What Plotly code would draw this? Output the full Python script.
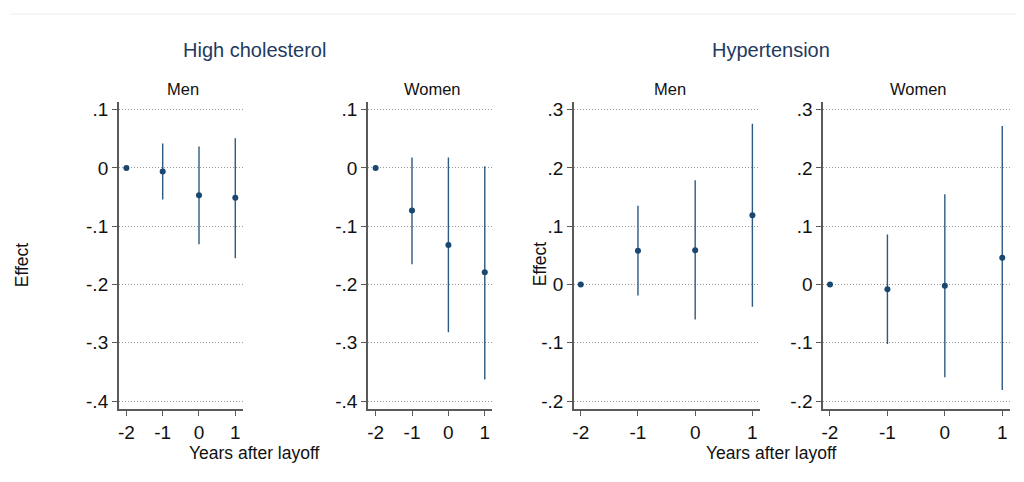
import plotly.graph_objects as go

# ---- data ----
years = [-2, -1, 0, 1]
x_ticks = [-2, -1, 0, 1]
x_ticktext = ["-2", "-1", "0", "1"]

hc_men_est = [0.0, -0.006, -0.047, -0.051]
hc_men_lo = [0.0, -0.054, -0.131, -0.155]
hc_men_hi = [0.0, 0.042, 0.037, 0.051]

hc_women_est = [0.0, -0.073, -0.132, -0.179]
hc_women_lo = [0.0, -0.165, -0.282, -0.363]
hc_women_hi = [0.0, 0.018, 0.018, 0.003]

ht_men_est = [0.0, 0.058, 0.059, 0.119]
ht_men_lo = [0.0, -0.019, -0.060, -0.038]
ht_men_hi = [0.0, 0.135, 0.179, 0.276]

ht_women_est = [0.0, -0.008, -0.002, 0.046]
ht_women_lo = [0.0, -0.102, -0.159, -0.181]
ht_women_hi = [0.0, 0.086, 0.155, 0.272]

hc_yticks = [0.1, 0.0, -0.1, -0.2, -0.3, -0.4]
hc_yticktext = [".1", "0", "-.1", "-.2", "-.3", "-.4"]
ht_yticks = [0.3, 0.2, 0.1, 0.0, -0.1, -0.2]
ht_yticktext = [".3", ".2", ".1", "0", "-.1", "-.2"]

group_titles = ["High cholesterol", "Hypertension"]
panel_titles = ["Men", "Women", "Men", "Women"]
x_title = "Years after layoff"
y_title = "Effect"

# ---- layout geometry (pixels in the screenshot; page body adds 8px offset) ----
OFF = 8
W, H = 1016, 474
panel_px = [(117, 241), (366.7, 491), (573, 759.3), (822.7, 1009.7)]
y_top_px, y_bot_px = 100, 410.7
x_ranges = [[-2.21, 1.2], [-2.21, 1.2], [-2.12, 1.13], [-2.12, 1.13]]
y_ranges = [[-0.4143, 0.1131], [-0.4143, 0.1131], [-0.2143, 0.3131], [-0.2143, 0.3131]]


def px(x):
    return (x - OFF) / W


def py(y):
    return 1 - (y - OFF) / H


series = [
    (hc_men_est, hc_men_lo, hc_men_hi, hc_yticks, hc_yticktext),
    (hc_women_est, hc_women_lo, hc_women_hi, hc_yticks, hc_yticktext),
    (ht_men_est, ht_men_lo, ht_men_hi, ht_yticks, ht_yticktext),
    (ht_women_est, ht_women_lo, ht_women_hi, ht_yticks, ht_yticktext),
]

MARK = "#1a476f"
AXIS = "#5a5a5a"
FONT = "Liberation Sans, Arial, sans-serif"

fig = go.Figure()
layout = dict(
    width=W, height=H,
    margin=dict(l=0, r=0, t=0, b=0),
    paper_bgcolor="white", plot_bgcolor="white",
    showlegend=False,
    font=dict(family=FONT, color="#111111"),
)

for i, (est, lo, hi, yt, ytt) in enumerate(series):
    n = "" if i == 0 else str(i + 1)
    fig.add_trace(go.Scatter(
        x=years, y=est, mode="markers",
        marker=dict(color=MARK, size=6),
        error_y=dict(type="data", symmetric=False,
                     array=[h - e for h, e in zip(hi, est)],
                     arrayminus=[e - l for e, l in zip(est, lo)],
                     width=0, thickness=1.4, color="#2c5a82"),
        xaxis="x" + n, yaxis="y" + n,
        hoverinfo="skip",
    ))
    x0, x1 = panel_px[i]
    layout["xaxis" + n] = dict(
        domain=[px(x0), px(x1)], range=x_ranges[i], anchor="y" + n,
        tickvals=x_ticks, ticktext=x_ticktext, ticks="outside", ticklen=5,
        tickwidth=1.2, tickcolor=AXIS, showline=True, linecolor=AXIS, linewidth=1.5,
        showgrid=False, zeroline=False, tickfont=dict(size=19, color="#111111"),
        fixedrange=True,
    )
    layout["yaxis" + n] = dict(
        domain=[py(y_bot_px), py(y_top_px)], range=y_ranges[i], anchor="x" + n,
        tickvals=yt, ticktext=ytt, ticks="outside", ticklen=5,
        tickwidth=1.2, tickcolor=AXIS, showline=True, linecolor=AXIS, linewidth=1.5,
        showgrid=True, gridcolor="#9a9a9a", griddash="1px,2px", gridwidth=1,
        zeroline=False, tickfont=dict(size=19, color="#111111"),
        fixedrange=True,
    )

ann = []
for t, cx in zip(group_titles, [253, 771]):
    ann.append(dict(text=t, x=px(cx), y=py(47), xref="paper", yref="paper",
                    showarrow=False, xanchor="center", yanchor="middle",
                    font=dict(size=20, color="#1e3a5f", family=FONT)))
for t, cx in zip(panel_titles, [181, 431, 669, 918]):
    ann.append(dict(text=t, x=px(cx), y=py(87), xref="paper", yref="paper",
                    showarrow=False, xanchor="center", yanchor="middle",
                    font=dict(size=16.5, color="#111111", family=FONT)))
for cx in [252, 771]:
    ann.append(dict(text=x_title, x=px(cx), y=py(455), xref="paper", yref="paper",
                    showarrow=False, xanchor="center", yanchor="middle",
                    font=dict(size=17.5, color="#111111", family=FONT)))
for cx, cy in [(20, 264), (539, 263)]:
    ann.append(dict(text=y_title, x=px(cx), y=py(cy), xref="paper", yref="paper",
                    showarrow=False, xanchor="center", yanchor="middle", textangle=-90,
                    font=dict(size=17.5, color="#111111", family=FONT)))
layout["annotations"] = ann
layout["shapes"] = [dict(type="line", xref="paper", yref="paper", x0=0, x1=1,
                         y0=py(11), y1=py(11),
                         line=dict(color="#eeeeee", width=1))]

fig.update_layout(**layout)
fig.write_html("out.html")
